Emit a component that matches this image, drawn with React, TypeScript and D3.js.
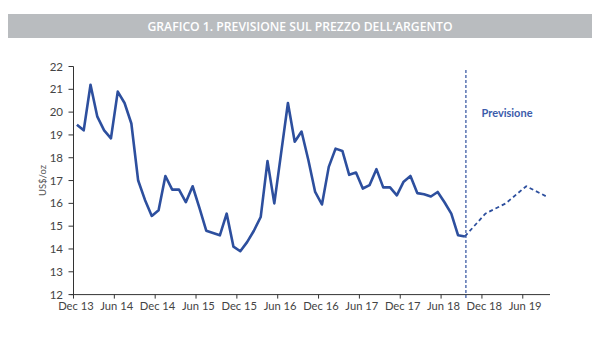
import React from 'react';
import * as d3 from 'd3';

// end-of-month silver price, Dec 13 .. Sep 18 (US$/oz)
const actual = [
  19.45, 19.2, 21.2, 19.8, 19.2, 18.85, 20.9, 20.4, 19.5, 17.0, 16.15, 15.45,
  15.7, 17.2, 16.6, 16.6, 16.05, 16.75, 15.8, 14.8, 14.7, 14.6, 15.55, 14.1,
  13.9, 14.3, 14.8, 15.4, 17.85, 16.0, 18.2, 20.4, 18.7, 19.15, 17.9, 16.5,
  15.95, 17.6, 18.4, 18.3, 17.25, 17.35, 16.65, 16.8, 17.5, 16.7, 16.7, 16.35,
  16.95, 17.2, 16.45, 16.4, 16.3, 16.5, 16.05, 15.55, 14.6, 14.55
];
// quarterly forecast Sep 18 .. Sep 19
const forecastMonths = [57, 60, 63, 66, 69];
const forecast = [14.55, 15.55, 16.0, 16.75, 16.3];

const tickLabels = ['Dec 13', 'Jun 14', 'Dec 14', 'Jun 15', 'Dec 15', 'Jun 16',
  'Dec 16', 'Jun 17', 'Dec 17', 'Jun 18', 'Dec 18', 'Jun 19'];
const yTicks = [12, 13, 14, 15, 16, 17, 18, 19, 20, 21, 22];

const months = d3.timeMonth.range(new Date(2013, 11, 1), new Date(2019, 9, 1));

const W = 600, H = 360;
const left = 73.5, right = 550, top = 66.5, bottom = 294.6;
const blue = '#2d4f9e';
const font = 'Lato, "Open Sans", sans-serif';

export default function App() {
  const x = d3.scaleBand<number>()
    .domain(d3.range(months.length))
    .range([left, right])
    .paddingInner(0).paddingOuter(0);
  const bw = x.bandwidth();
  const cx = (i: number) => (x(i) as number) + bw / 2;
  const y = d3.scaleLinear().domain([12, 22]).range([bottom, top]);

  const line = d3.line<number>()
    .x((_, i) => cx(i))
    .y(d => y(d));
  const fline = d3.line<number>()
    .x((_, i) => cx(forecastMonths[i]))
    .y(d => y(d));

  const splitX = cx(actual.length - 1);

  return (
    <svg width={W} height={H} style={{ position: 'absolute', left: 0, top: 0, background: '#fff' }}>
      {/* title bar */}
      <rect x={8} y={14} width={584} height={24} fill="#b9bcbf" />
      <text x={300} y={30.5} textAnchor="middle" fill="#fff" fontFamily='"Open Sans", sans-serif'
        fontWeight={600} fontSize={12.2}>
        GRAFICO 1. PREVISIONE SUL PREZZO DELL’ARGENTO
      </text>

      {/* y axis */}
      <line x1={left} x2={left} y1={top} y2={bottom} stroke="#333" strokeWidth={1} />
      {yTicks.map(t => (
        <g key={t}>
          <line x1={left - 5} x2={left} y1={y(t)} y2={y(t)} stroke="#333" />
          <text x={63} y={y(t)} dy="0.35em" textAnchor="end" fontFamily={font}
            fontSize={11.5} fill="#444">{t}</text>
        </g>
      ))}
      <text transform={`translate(46,${(top + bottom) / 2}) rotate(-90)`} textAnchor="middle"
        fontFamily={font} fontSize={9.5} fill="#555">US$/oz</text>

      {/* x axis */}
      <line x1={left - 3} x2={right} y1={bottom} y2={bottom} stroke="#333" strokeWidth={1} />
      {tickLabels.map((lab, k) => {
        const i = k * 6;
        const tx = x(i) as number;
        return (
          <g key={lab}>
            <line x1={tx} x2={tx} y1={bottom} y2={bottom + 4} stroke="#333" />
            <text x={tx + bw / 2 - 1} y={bottom + 15.5} textAnchor="middle" fontFamily={font}
              fontSize={11.2} fill="#444">{lab}</text>
          </g>
        );
      })}

      {/* forecast divider */}
      <line x1={splitX + 1} x2={splitX + 1} y1={70} y2={bottom + 5} stroke={blue}
        strokeWidth={1.2} strokeDasharray="3,2" />
      <text x={507} y={117} textAnchor="middle" fontFamily={font} fontWeight={700}
        fontSize={11} fill="#3c5cab">Previsione</text>

      <path d={line(actual) || ''} fill="none" stroke={blue} strokeWidth={2.6}
        strokeLinejoin="round" />
      <path d={fline(forecast) || ''} fill="none" stroke={blue} strokeWidth={1.8}
        strokeDasharray="4,3" />
    </svg>
  );
}
